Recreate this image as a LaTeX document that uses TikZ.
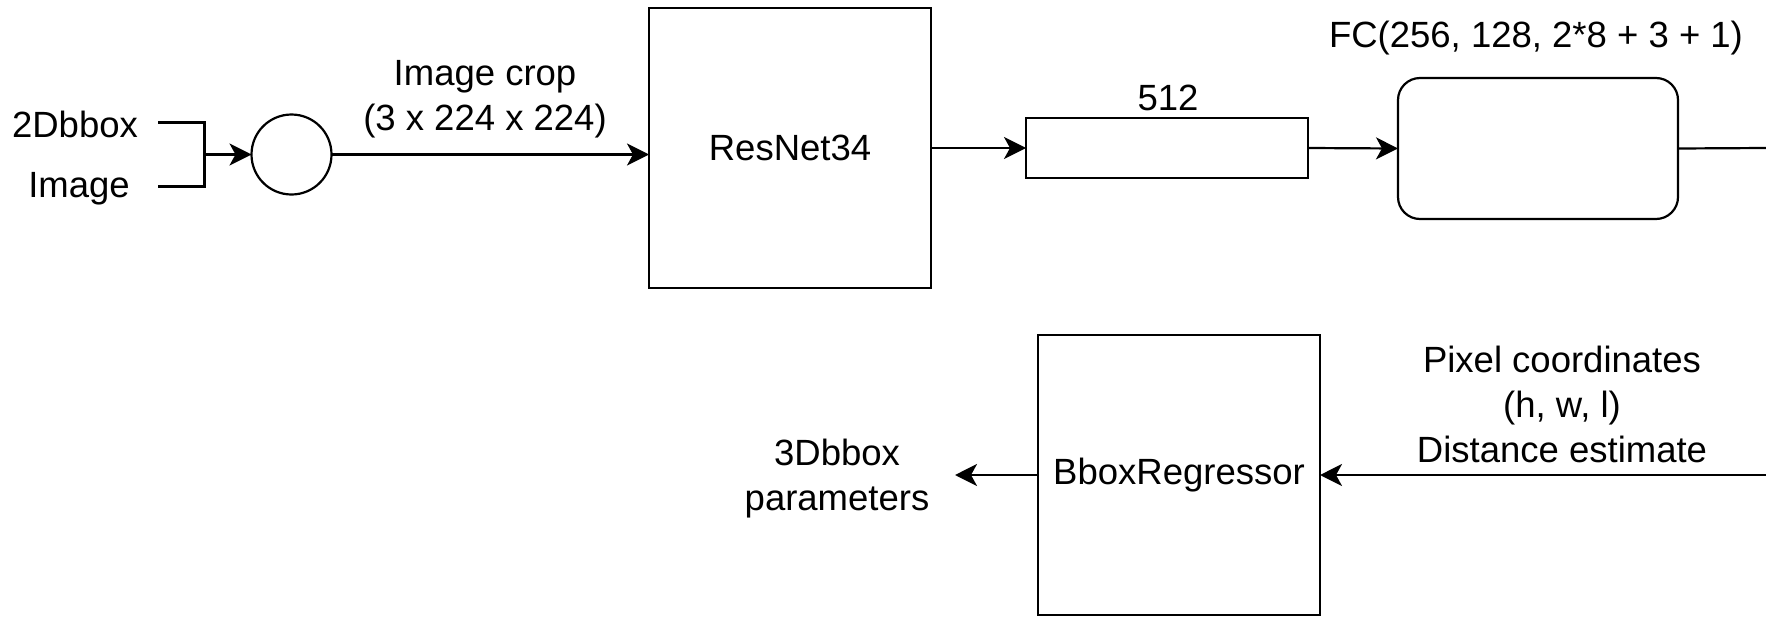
\documentclass[tikz,border=0pt]{standalone}
\usepackage{fontspec}
\setmainfont{Liberation Sans}
\usetikzlibrary{arrows.meta}
\begin{document}
\begin{tikzpicture}[x=1pt,y=-1pt,
  every node/.style={font=\fontsize{36.5}{45}\selectfont, inner sep=0pt, outer sep=0pt},
  line/.style={line width=2.2pt},
  arr/.style={line width=2.2pt, -{Stealth[length=22pt,width=22pt,inset=6pt]}},
  blk/.style={draw, line width=2.2pt, minimum width=282pt},
  lbl/.style={align=center}]
\useasboundingbox (0,0) rectangle (1766,616);
% input labels
\node[anchor=center] (t2d) at (75,124) {2Dbbox};
\node[anchor=center] (timg) at (79,189) {Image};
\coordinate (s2d) at (158,122.5);
\coordinate (simg) at (158,186.5);
\coordinate (j) at (204.5,154.5);
\node[draw, circle, line width=2.2pt, minimum size=80pt] (circ) at (291.5,154.5) {};
% blocks
\node[blk, minimum height=280pt] (res) at (790,148) {ResNet34};
\node[blk, minimum height=60pt] (f512) at (1167,148) {};
\node[blk, minimum width=280pt, minimum height=141pt, rounded corners=22pt] (fc) at (1538,148.5) {};
\node[blk, minimum height=280pt] (bbr) at (1179,475) {BboxRegressor};
% labels
\node[lbl] (lcrop) at (485,99) {Image crop\\(3 x 224 x 224)};
\node (l512) at (1168,98) {512};
\node (lfc) at (1536,38) {FC(256, 128, 2*8 + 3 + 1)};
\node[lbl] (lpix) at (1562,404) {Pixel coordinates\\(h, w, l)\\Distance estimate};
\node[lbl] (l3d) at (837,479) {3Dbbox\\parameters};
\coordinate (eR1) at (1766,148);
\coordinate (eR2) at (1766,475);
\coordinate (out3d) at (955,475);
% connectors
\draw[line] (s2d) -| (j);
\draw[line] (simg) -| (j);
\draw[arr] (j) -- (circ.west);
\draw[arr] (circ.east) -- (circ.east -| res.west);
\draw[arr] (res.east) -- (f512.west);
\draw[arr] (f512.east) -- (fc.west);
\draw[line] (fc.east) -- (eR1);
\draw[arr] (eR2) -- (bbr.east);
\draw[arr] (bbr.west) -- (out3d);
\end{tikzpicture}
\end{document}
